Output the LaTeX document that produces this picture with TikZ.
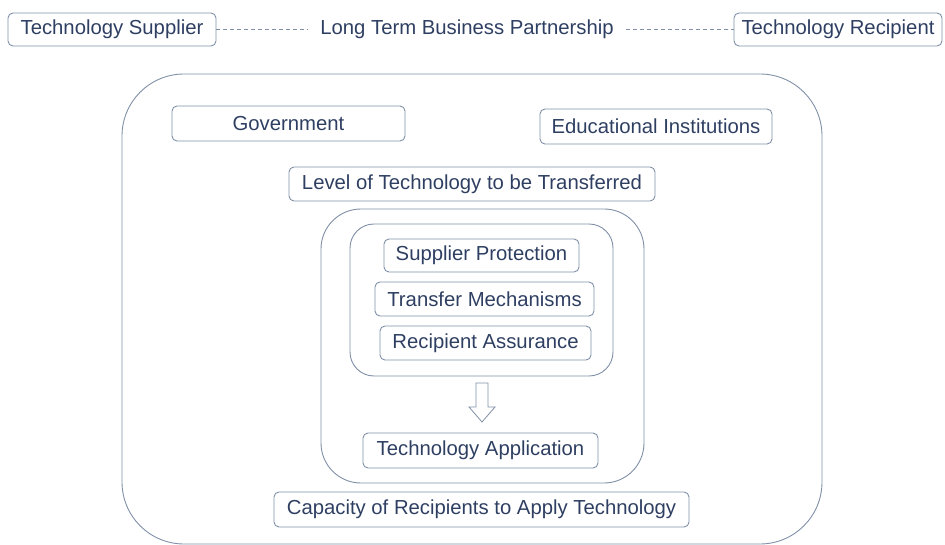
\documentclass[tikz,border=0pt]{standalone}
\usepackage{fontspec}
\setmainfont{Liberation Sans}
\usetikzlibrary{positioning}
\definecolor{edge}{HTML}{8090A8}
\definecolor{txt}{HTML}{2E3F62}
\tikzset{
  box/.style={draw=edge, line width=0.9pt, rounded corners=5pt, text=txt,
    font=\fontsize{20.3}{24}\selectfont, inner sep=0pt, align=center},
  frame/.style={draw=edge, line width=0.9pt},
  link/.style={draw=edge, line width=0.7pt, dash pattern=on 4pt off 3pt}
}
\begin{document}
\begin{tikzpicture}[x=1pt,y=-1pt]
\useasboundingbox (0,0) rectangle (945,545);
% containers
\node[frame, rounded corners=62pt, minimum width=700pt, minimum height=470pt] (outer) at (472,309) {};
\node[frame, rounded corners=40pt, minimum width=323pt, minimum height=274pt] (middle) at (482.5,346) {};
\node[frame, rounded corners=24pt, minimum width=263pt, minimum height=152pt] (inner) at (481.5,300) {};
% top row
\node[box, minimum width=208pt, minimum height=33pt] (sup) at (112,29.5) {Technology Supplier};
\node[box, minimum width=208pt, minimum height=33pt] (rec) at (838,29.5) {Technology Recipient};
\node[text=txt, font=\fontsize{20.3}{24}\selectfont, inner xsep=12pt] (ltp) at (467,29.5) {Long Term Business Partnership};
\draw[link] (sup.east) -- (ltp.west);
\draw[link] (ltp.east) -- (rec.west);
% outer content
\node[box, minimum width=233pt, minimum height=35pt] (gov) at (288.5,123.5) {Government};
\node[box, minimum width=232pt, minimum height=35pt] (edu) at (656,126.5) {Educational Institutions};
\node[box, minimum width=366pt, minimum height=34pt] (lvl) at (472,184) {Level of Technology to be Transferred};
% inner content
\node[box, minimum width=195pt, minimum height=33pt] (sp) at (481.5,255.5) {Supplier Protection};
\node[box, minimum width=219pt, minimum height=34pt] (tm) at (484.5,299) {Transfer Mechanisms};
\node[box, minimum width=211pt, minimum height=34pt] (ra) at (485.5,343) {Recipient Assurance};
\node[box, minimum width=235pt, minimum height=35pt] (ta) at (480.5,450.5) {Technology Application};
\node[box, minimum width=415pt, minimum height=35pt] (cap) at (481.5,509.5) {Capacity of Recipients to Apply Technology};
% hollow block arrow
\draw[frame, line width=0.8pt, line join=miter]
  (476,383) -- (488,383) -- (488,407) -- (495,407) -- (482,422) -- (469,407) -- (476,407) -- cycle;
\end{tikzpicture}
\end{document}
